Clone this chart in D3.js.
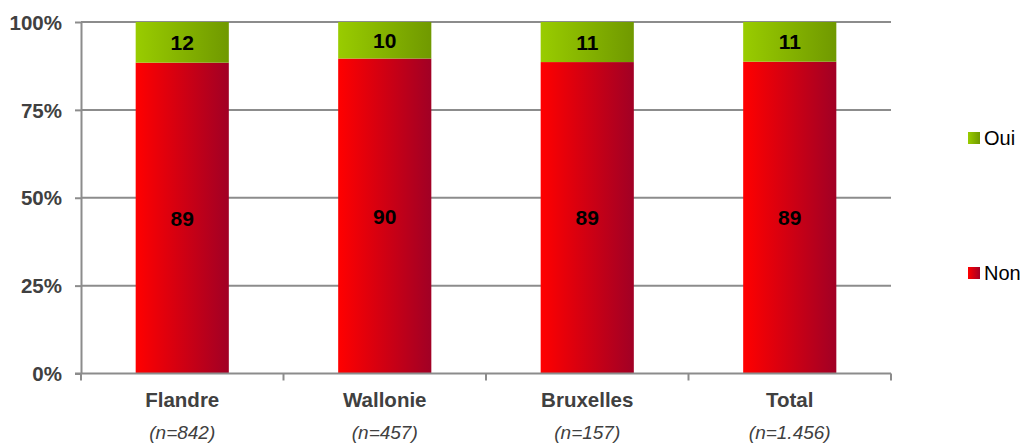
<!DOCTYPE html>
<html><head><meta charset="utf-8">
<script src="https://cdn.jsdelivr.net/npm/d3@7/dist/d3.min.js"></script>
<style>body{margin:0;background:#fff}svg{display:block}</style>
</head><body>
<svg id="c" width="1025" height="443"></svg>
<script>
const categories = ["Flandre","Wallonie","Bruxelles","Total"];
const sampleLabels = ["(n=842)","(n=457)","(n=157)","(n=1.456)"];
const nonValues = [88.6, 89.6, 88.6, 88.7];
const ouiValues = [11.6, 10.4, 11.4, 11.3];
const yTicks = [0, 0.25, 0.5, 0.75, 1];
const seriesNames = ["Non","Oui"];

const svg = d3.select("#c");
const font = "'Liberation Sans', Arial, sans-serif";
const mLeft = 81, mRight = 891, mTop = 22, mBottom = 373.5;

const x = d3.scaleBand().domain(categories).range([mLeft, mRight]).paddingInner(0.54).paddingOuter(0.27);
const xTick = d3.scaleBand().domain(categories).range([mLeft, mRight]);
const y = d3.scaleLinear().domain([0,1]).range([mBottom, mTop]);

const rows = categories.map((c,i)=>({cat:c, Non:nonValues[i], Oui:ouiValues[i]}));
const stack = d3.stack().keys(seriesNames).offset(d3.stackOffsetExpand);
const layers = stack(rows);

const defs = svg.append("defs");
function grad(id, c1, c2){
  const g = defs.append("linearGradient").attr("id",id).attr("x1","0%").attr("x2","100%").attr("y1","0%").attr("y2","0%");
  g.append("stop").attr("offset","0%").attr("stop-color",c1);
  g.append("stop").attr("offset","100%").attr("stop-color",c2);
}
grad("gNon","#ff0000","#a10025");
grad("gOui","#99cc00","#709900");
const fills = {Non:"url(#gNon)", Oui:"url(#gOui)"};

// gridlines
svg.append("g").selectAll("line").data(yTicks.filter(t=>t>0)).join("line")
  .attr("x1",mLeft).attr("x2",mRight).attr("y1",d=>y(d)).attr("y2",d=>y(d))
  .attr("stroke","#8c8c8c").attr("stroke-width",2);

// bars
const lg = svg.append("g").selectAll("g").data(layers).join("g").attr("fill",d=>fills[d.key]);
lg.selectAll("rect").data(d=>d).join("rect")
  .attr("x",d=>x(d.data.cat)).attr("width",x.bandwidth())
  .attr("y",d=>y(d[1])).attr("height",d=>y(d[0])-y(d[1]));

// value labels
layers.forEach(layer=>{
  svg.append("g").selectAll("text").data(layer).join("text")
    .attr("x",d=>x(d.data.cat)+x.bandwidth()/2)
    .attr("y",d=>(y(d[0])+y(d[1]))/2)
    .attr("dy","0.36em").attr("text-anchor","middle")
    .attr("font-family",font).attr("font-weight","bold").attr("font-size",21)
    .attr("fill","#000")
    .text(d=>d3.format(".0f")(d.data[layer.key]));
});

// y axis
const ya = svg.append("g").attr("transform",`translate(${mLeft},0)`)
  .call(d3.axisLeft(y).tickValues(yTicks).tickFormat(d3.format(".0%")).tickSize(6).tickSizeOuter(0));
ya.select(".domain").attr("stroke","#8c8c8c").attr("stroke-width",2);
ya.selectAll(".tick line").attr("stroke","#8c8c8c").attr("stroke-width",2);
ya.selectAll("text").attr("font-family",font).attr("font-weight","bold").attr("font-size",20.5)
  .attr("fill","#404040").attr("x",-19).attr("dy","0.35em");

// x axis
const xg = svg.append("g");
xg.append("line").attr("x1",mLeft-6).attr("x2",mRight).attr("y1",mBottom).attr("y2",mBottom)
  .attr("stroke","#8c8c8c").attr("stroke-width",2);
const tickXs = categories.map(c=>xTick(c)).concat([mRight]);
xg.selectAll("line.t").data(tickXs).join("line").attr("class","t")
  .attr("x1",d=>d).attr("x2",d=>d).attr("y1",mBottom).attr("y2",mBottom+7)
  .attr("stroke","#8c8c8c").attr("stroke-width",2);
xg.selectAll("text.cat").data(categories).join("text").attr("class","cat")
  .attr("x",d=>xTick(d)+xTick.bandwidth()/2).attr("y",400).attr("dy","0.35em")
  .attr("text-anchor","middle").attr("font-family",font).attr("font-weight","bold").attr("font-size",20.5)
  .attr("fill","#404040").text(d=>d);
xg.selectAll("text.n").data(categories).join("text").attr("class","n")
  .attr("x",d=>xTick(d)+xTick.bandwidth()/2).attr("y",432.5).attr("dy","0.35em")
  .attr("text-anchor","middle").attr("font-family",font).attr("font-style","italic").attr("font-size",19)
  .attr("fill","#404040").text((d,i)=>sampleLabels[i]);

// legend
const legendItems = [{k:"Oui", y:138},{k:"Non", y:273}];
const leg = svg.append("g").selectAll("g").data(legendItems).join("g")
  .attr("transform",d=>`translate(968,${d.y})`);
leg.append("rect").attr("x",0).attr("y",-6).attr("width",12).attr("height",12).attr("fill",d=>fills[d.k]);
leg.append("text").attr("x",16).attr("y",0).attr("dy","0.36em")
  .attr("font-family",font).attr("font-size",20).attr("fill","#000").text(d=>d.k);
</script>
</body></html>
